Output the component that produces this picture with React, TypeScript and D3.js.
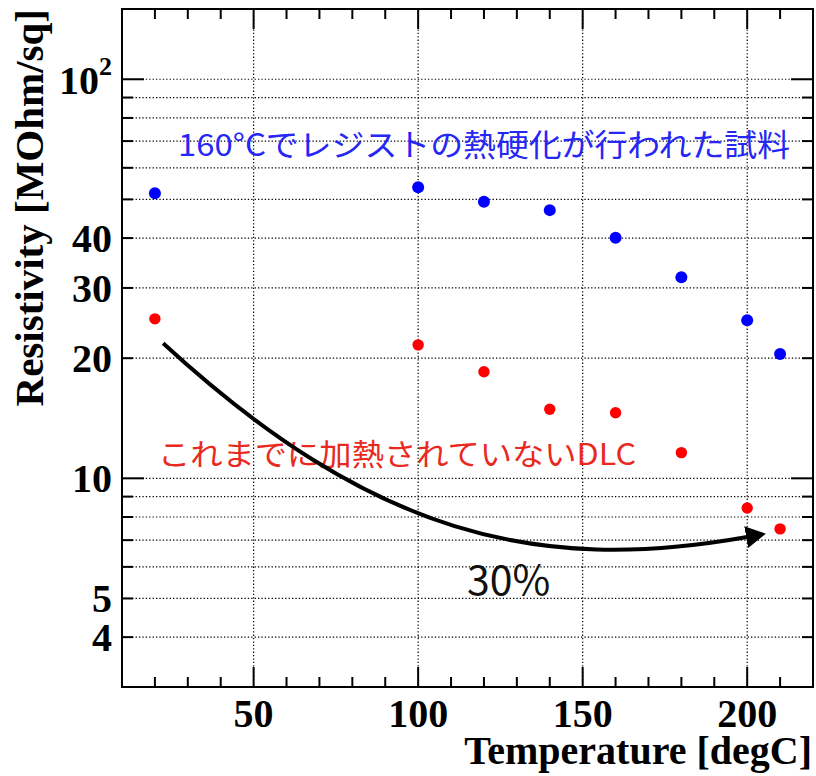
import React from "react";
import * as d3 from "d3";

// Measured sheet resistivity versus anneal temperature
const temperatures = [20, 100, 120, 140, 160, 180, 200, 210];
const resistBaked = [51.8, 53.6, 49.3, 47.0, 40.1, 31.9, 24.9, 20.5];
const resistUnheated = [25.1, 21.6, 18.5, 14.9, 14.6, 11.6, 8.43, 7.47];

const xMajorTicks = [50, 100, 150, 200];
const xMinorTicks = [20, 30, 40, 60, 70, 80, 90, 110, 120, 130, 140, 160, 170, 180, 190, 210];
const yGridTicks = [4, 5, 6, 7, 8, 9, 10, 20, 30, 40, 50, 60, 70, 80, 90, 100];
const yLabelTicks = [4, 5, 10, 20, 30, 40];

const bakedLabel = "160°Cでレジストの熱硬化が行われた試料";
const unheatedLabel = "これまでに加熱されていないDLC";
const dropLabel = "30%";

// Annotation arrow: start, two control points, end (temperature, resistivity)
const arrowPath: [number, number][] = [
  [22.5, 21.8],
  [86, 7.2],
  [136, 5.75],
  [200, 7.13],
];

const W = 816;
const H = 776;
const L = 122;
const R = 813;
const T = 9;
const B = 687;

export default function App() {
  const x = d3.scaleLinear().domain([10, 220]).range([L, R]);
  const y = d3.scaleLog().domain([3, 150]).range([B, T]);

  const serif = "'Liberation Serif', 'Times New Roman', serif";
  const sans = "'Noto Sans CJK JP', 'Noto Sans', sans-serif";

  const isMajorY = (v: number) => v === 10 || v === 100;

  const [a0, a1, a2, a3] = arrowPath.map(([t, r]) => [x(t), y(r)]);
  const arrowD = `M${a0[0]},${a0[1]} C${a1[0]},${a1[1]} ${a2[0]},${a2[1]} ${a3[0]},${a3[1]}`;

  return (
    <svg
      width={W}
      height={H}
      style={{ position: "absolute", left: 0, top: 0, background: "#fff" }}
    >
      <defs>
        <marker
          id="arrowHead"
          viewBox="0 0 20 22"
          refX={1}
          refY={11}
          markerWidth={20}
          markerHeight={22}
          markerUnits="userSpaceOnUse"
          orient="auto"
        >
          <path d="M0,0 L20,11 L0,22 Z" fill="#000" />
        </marker>
      </defs>

      {/* grid */}
      <g stroke="#000" strokeWidth={1.2} strokeDasharray="1.3 2.1" fill="none">
        {xMajorTicks.map((v) => (
          <line key={"gx" + v} x1={x(v)} x2={x(v)} y1={T} y2={B} />
        ))}
        {yGridTicks.map((v) => (
          <line key={"gy" + v} x1={L} x2={R} y1={y(v)} y2={y(v)} />
        ))}
      </g>

      {/* ticks */}
      <g stroke="#000" strokeWidth={2}>
        {xMajorTicks.map((v) => (
          <g key={"tx" + v}>
            <line x1={x(v)} x2={x(v)} y1={B} y2={B - 20} />
            <line x1={x(v)} x2={x(v)} y1={T} y2={T + 20} />
          </g>
        ))}
        {xMinorTicks.map((v) => (
          <g key={"mx" + v}>
            <line x1={x(v)} x2={x(v)} y1={B} y2={B - 10} />
            <line x1={x(v)} x2={x(v)} y1={T} y2={T + 10} />
          </g>
        ))}
        {yGridTicks.map((v) => {
          const len = isMajorY(v) ? 22 : 11;
          return (
            <g key={"ty" + v}>
              <line x1={L} x2={L + len} y1={y(v)} y2={y(v)} />
              <line x1={R} x2={R - len} y1={y(v)} y2={y(v)} />
            </g>
          );
        })}
      </g>

      {/* frame */}
      <rect x={L} y={T} width={R - L} height={B - T} fill="none" stroke="#000" strokeWidth={2} />

      {/* x tick labels */}
      <g fontFamily={serif} fontWeight="bold" fontSize={40} fill="#000" textAnchor="middle">
        {xMajorTicks.map((v) => (
          <text key={"lx" + v} x={x(v)} y={727}>
            {v}
          </text>
        ))}
      </g>

      {/* y tick labels */}
      <g fontFamily={serif} fontWeight="bold" fontSize={40} fill="#000" textAnchor="end">
        {yLabelTicks.map((v) => (
          <text key={"ly" + v} x={112} y={y(v)} dy="0.35em">
            {v}
          </text>
        ))}
        <text x={112} y={y(100)} dy="0.38em">
          10
          <tspan fontSize={26} dy="-0.75em">2</tspan>
        </text>
      </g>

      {/* axis titles */}
      <text
        x={812}
        y={764}
        textAnchor="end"
        fontFamily={serif}
        fontWeight="bold"
        fontSize={40}
        fill="#000"
      >
        Temperature [degC]
      </text>
      <text
        transform={`translate(43, ${T}) rotate(-90)`}
        textAnchor="end"
        fontFamily={serif}
        fontWeight="bold"
        fontSize={41}
        fill="#000"
      >
        Resistivity [MOhm/sq]
      </text>

      {/* data points */}
      <g fill="#0000ff">
        {temperatures.map((t, i) => (
          <circle key={"b" + i} cx={x(t)} cy={y(resistBaked[i])} r={6} />
        ))}
      </g>
      <g fill="#ff0000">
        {temperatures.map((t, i) => (
          <circle key={"u" + i} cx={x(t)} cy={y(resistUnheated[i])} r={5.7} />
        ))}
      </g>

      {/* annotations */}
      <text
        x={178}
        y={156}
        fontFamily={sans}
        fontSize={31}
        fill="#2626f5"
        textLength={612}
        lengthAdjust="spacingAndGlyphs"
      >
        {bakedLabel}
      </text>
      <text
        x={158}
        y={465}
        fontFamily={sans}
        fontSize={30}
        fill="#e9291d"
        textLength={478}
        lengthAdjust="spacingAndGlyphs"
      >
        {unheatedLabel}
      </text>
      <text x={467} y={595} fontFamily={sans} fontSize={41} fill="#111">
        {dropLabel}
      </text>
      <path d={arrowD} fill="none" stroke="#000" strokeWidth={4} markerEnd="url(#arrowHead)" />
    </svg>
  );
}
